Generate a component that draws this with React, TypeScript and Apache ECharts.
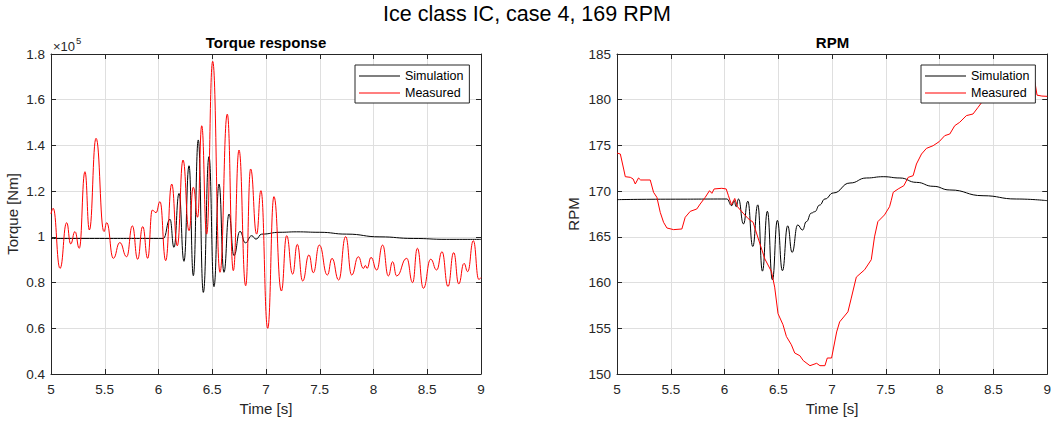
import React, { useEffect, useRef } from "react";
import * as echarts from "echarts";

const FONT = '"Liberation Sans", Arial, Helvetica, sans-serif';

// Axis ranges / ticks
const timeMin = 5;
const timeMax = 9;
const timeStep = 0.5;
const torqueMin = 0.4;
const torqueMax = 1.8;
const torqueStep = 0.2;
const rpmMin = 150;
const rpmMax = 185;
const rpmStep = 5;

// Torque response, simulation (x10^5 Nm)
const torqueSimT = [5.0, 5.5, 6.0, 6.045, 6.107, 6.144, 6.191, 6.237, 6.284, 6.324, 6.37, 6.417, 6.47, 6.516, 6.563, 6.609, 6.656, 6.702, 6.758, 6.808, 6.867, 6.907, 6.96, 7.13, 7.285, 7.5, 7.75, 8.06, 8.37, 8.68, 9.0];
const torqueSimV = [0.993, 0.993, 0.993, 0.993, 1.077, 0.954, 1.19, 0.893, 1.311, 0.83, 1.424, 0.757, 1.351, 0.782, 1.231, 0.845, 1.1, 0.918, 1.024, 0.974, 1.005, 0.99, 1.012, 1.02, 1.022, 1.02, 1.012, 1.0, 0.993, 0.989, 0.989];

// Torque response, measured (x10^5 Nm)
const torqueMeasT = [5.0, 5.02, 5.084, 5.146, 5.183, 5.223, 5.263, 5.316, 5.357, 5.419, 5.493, 5.518, 5.58, 5.64, 5.704, 5.757, 5.806, 5.853, 5.9, 5.942, 5.977, 6.014, 6.067, 6.123, 6.175, 6.228, 6.284, 6.324, 6.364, 6.402, 6.448, 6.504, 6.572, 6.64, 6.696, 6.749, 6.811, 6.857, 6.913, 6.953, 7.016, 7.074, 7.143, 7.192, 7.248, 7.291, 7.341, 7.4, 7.44, 7.496, 7.571, 7.614, 7.676, 7.741, 7.797, 7.859, 7.906, 7.925, 7.94, 7.977, 8.03, 8.085, 8.138, 8.178, 8.215, 8.309, 8.364, 8.408, 8.464, 8.532, 8.588, 8.637, 8.693, 8.746, 8.793, 8.842, 8.876, 8.929, 8.979, 9.0];
const torqueMeasV = [1.1, 1.125, 0.862, 1.062, 0.969, 1.023, 0.95, 1.285, 1.03, 1.431, 1.023, 1.062, 0.906, 0.975, 0.913, 1.048, 0.902, 1.045, 0.906, 1.117, 1.106, 1.154, 0.896, 1.231, 0.961, 1.336, 1.027, 1.217, 1.086, 1.486, 1.012, 1.768, 0.845, 1.537, 0.852, 1.38, 0.786, 1.297, 1.012, 1.202, 0.6, 1.176, 0.763, 1.005, 0.837, 0.967, 0.807, 0.921, 0.843, 0.964, 0.833, 0.906, 0.811, 1.001, 0.833, 0.913, 0.862, 0.875, 0.862, 0.91, 0.855, 0.964, 0.829, 0.891, 0.829, 0.906, 0.8, 0.95, 0.775, 0.902, 0.855, 0.935, 0.783, 0.931, 0.794, 0.884, 0.848, 0.983, 0.814, 0.822];

// RPM, simulation
const rpmSimT = [5.0, 5.5, 6.021, 6.067, 6.089, 6.108, 6.129, 6.176, 6.216, 6.262, 6.309, 6.352, 6.398, 6.445, 6.491, 6.538, 6.587, 6.628, 6.68, 6.725, 6.76, 6.807, 6.838, 6.884, 6.933, 7.011, 7.166, 7.32, 7.475, 7.63, 7.784, 7.939, 8.094, 8.403, 8.712, 9.0];
const rpmSimV = [169.07, 169.12, 169.14, 168.41, 168.96, 168.3, 169.14, 166.41, 168.9, 163.95, 168.5, 161.25, 167.8, 160.3, 166.8, 161.3, 166.2, 163.3, 166.3, 165.75, 166.66, 167.6, 167.75, 168.48, 169.14, 169.8, 170.89, 171.44, 171.58, 171.44, 170.96, 170.53, 170.13, 169.5, 169.14, 168.96];

// RPM, measured
const rpmMeasT = [5.0, 5.031, 5.062, 5.077, 5.124, 5.15, 5.17, 5.2, 5.22, 5.309, 5.34, 5.371, 5.402, 5.433, 5.464, 5.526, 5.603, 5.634, 5.681, 5.742, 5.773, 5.82, 5.86, 5.882, 5.903, 5.974, 6.015, 6.036, 6.064, 6.095, 6.12, 6.172, 6.219, 6.265, 6.327, 6.374, 6.436, 6.466, 6.497, 6.543, 6.575, 6.621, 6.652, 6.7, 6.732, 6.794, 6.856, 6.887, 6.933, 6.955, 6.995, 7.042, 7.07, 7.147, 7.178, 7.225, 7.302, 7.364, 7.394, 7.425, 7.487, 7.534, 7.55, 7.568, 7.614, 7.667, 7.707, 7.753, 7.784, 7.831, 7.877, 7.939, 7.995, 8.047, 8.094, 8.14, 8.186, 8.248, 8.31, 8.357, 8.403, 8.5, 8.65, 8.8, 8.885, 8.905, 8.95, 9.0];
const rpmMeasV = [174.17, 174.06, 172.42, 171.58, 171.51, 171.33, 170.78, 171.44, 171.22, 171.22, 169.87, 169.32, 167.68, 166.59, 165.97, 165.79, 165.86, 167.14, 167.79, 168.05, 168.59, 169.32, 170.05, 169.76, 170.24, 170.31, 170.24, 169.5, 168.5, 169.2, 168.3, 167.6, 167.0, 166.6, 164.3, 162.6, 161.2, 159.5, 156.6, 155.4, 154.1, 153.2, 152.3, 152.0, 151.46, 150.91, 151.17, 150.91, 150.91, 151.75, 151.75, 154.6, 155.7, 156.8, 158.3, 160.6, 161.4, 162.5, 165.0, 166.66, 167.4, 168.3, 169.0, 169.87, 170.24, 170.6, 171.51, 171.69, 172.97, 174.06, 174.68, 174.97, 175.41, 176.07, 176.25, 177.16, 177.53, 178.26, 178.44, 179.17, 179.9, 180.2, 180.9, 181.5, 181.97, 180.5, 180.4, 180.37];

const pairs = (t: number[], v: number[]) => t.map((x, i) => [x, v[i]]);

const AXIS_COLOR = "#262626";
const GRID_COLOR = "#dfdfdf";

function xAxis(gi: number, pos: "bottom" | "top") {
  const main = pos === "bottom";
  return {
    type: "value",
    gridIndex: gi,
    position: pos,
    min: timeMin,
    max: timeMax,
    interval: timeStep,
    name: main ? "Time [s]" : "",
    nameLocation: "middle",
    nameGap: 25,
    nameTextStyle: { fontSize: 15, color: AXIS_COLOR, fontFamily: FONT },
    axisLine: { show: true, onZero: false, lineStyle: { color: AXIS_COLOR, width: 1 } },
    axisTick: { show: true, inside: true, length: 5, lineStyle: { color: AXIS_COLOR } },
    axisLabel: { show: main, margin: 8, fontSize: 13.5, color: AXIS_COLOR, fontFamily: FONT },
    splitLine: { show: main, lineStyle: { color: GRID_COLOR, width: 1 } },
  };
}

function yAxis(gi: number, pos: "left" | "right", min: number, max: number, step: number, name: string, gap: number) {
  const main = pos === "left";
  return {
    type: "value",
    gridIndex: gi,
    position: pos,
    min,
    max,
    interval: step,
    name: main ? name : "",
    nameLocation: "middle",
    nameGap: gap,
    nameTextStyle: { fontSize: 15, color: AXIS_COLOR, fontFamily: FONT },
    axisLine: { show: true, onZero: false, lineStyle: { color: AXIS_COLOR, width: 1 } },
    axisTick: { show: true, inside: true, length: 5, lineStyle: { color: AXIS_COLOR } },
    axisLabel: { show: main, margin: 6, fontSize: 13.5, color: AXIS_COLOR, fontFamily: FONT },
    splitLine: { show: main, lineStyle: { color: GRID_COLOR, width: 1 } },
  };
}

function legend(left: number) {
  return {
    orient: "vertical",
    left,
    top: 65,
    icon: "rect",
    itemWidth: 41,
    itemHeight: 1,
    itemGap: 3,
    padding: [4, 6, 3, 4],
    backgroundColor: "#ffffff",
    borderColor: AXIS_COLOR,
    borderWidth: 1,
    borderRadius: 0,
    selectedMode: false,
    textStyle: { fontSize: 12.5, color: "#000", fontFamily: FONT, lineHeight: 14 },
    data: ["Simulation", "Measured"],
  };
}

function line(name: string, gi: number, data: number[][], color: string, smooth: boolean) {
  return {
    name,
    type: "line",
    xAxisIndex: gi * 2,
    yAxisIndex: gi * 2,
    data,
    symbol: "none",
    showSymbol: false,
    smooth: smooth ? 0.5 : false,
    smoothMonotone: smooth ? "x" : undefined,
    lineStyle: { color, width: 1 },
    itemStyle: { color },
    emphasis: { disabled: true },
  };
}

export default function App() {
  const ref = useRef<HTMLDivElement>(null);
  useEffect(() => {
    document.body.style.margin = "0";
    if (!ref.current) return;
    const chart = echarts.init(ref.current, undefined, { renderer: "svg" });
    chart.setOption({
      animation: false,
      backgroundColor: "#ffffff",
      grid: [
        { left: 51, top: 54, width: 430, height: 320, containLabel: false },
        { left: 617, top: 54, width: 431, height: 320, containLabel: false },
      ],
      xAxis: [xAxis(0, "bottom"), xAxis(0, "top"), xAxis(1, "bottom"), xAxis(1, "top")],
      yAxis: [
        yAxis(0, "left", torqueMin, torqueMax, torqueStep, "Torque [Nm]", 31),
        yAxis(0, "right", torqueMin, torqueMax, torqueStep, "", 31),
        yAxis(1, "left", rpmMin, rpmMax, rpmStep, "RPM", 36),
        yAxis(1, "right", rpmMin, rpmMax, rpmStep, "", 36),
      ],
      legend: [legend(355), legend(921)],
      graphic: [
        {
          type: "text",
          x: 527,
          y: 14,
          style: { text: "Ice class IC, case 4, 169 RPM", fontSize: 21.5, fontFamily: FONT, fill: "#000", align: "center", verticalAlign: "middle" },
        },
        {
          type: "text",
          x: 266,
          y: 42,
          style: { text: "Torque response", fontSize: 15, fontWeight: "bold", fontFamily: FONT, fill: "#000", align: "center", verticalAlign: "middle" },
        },
        {
          type: "text",
          x: 832.5,
          y: 42,
          style: { text: "RPM", fontSize: 15, fontWeight: "bold", fontFamily: FONT, fill: "#000", align: "center", verticalAlign: "middle" },
        },
        {
          type: "text",
          x: 53,
          y: 46.5,
          style: { text: "×10", fontSize: 13, fontFamily: FONT, fill: AXIS_COLOR, align: "left", verticalAlign: "middle" },
        },
        {
          type: "text",
          x: 76,
          y: 40,
          style: { text: "5", fontSize: 9.5, fontFamily: FONT, fill: AXIS_COLOR, align: "left", verticalAlign: "middle" },
        },
      ],
      series: [
        line("Simulation", 0, pairs(torqueSimT, torqueSimV), "#000000", true),
        line("Measured", 0, pairs(torqueMeasT, torqueMeasV), "#ff0000", true),
        line("Simulation", 1, pairs(rpmSimT, rpmSimV), "#000000", true),
        line("Measured", 1, pairs(rpmMeasT, rpmMeasV), "#ff0000", false),
      ],
    });
    return () => chart.dispose();
  }, []);
  return <div ref={ref} style={{ width: 1054, height: 423 }} />;
}
